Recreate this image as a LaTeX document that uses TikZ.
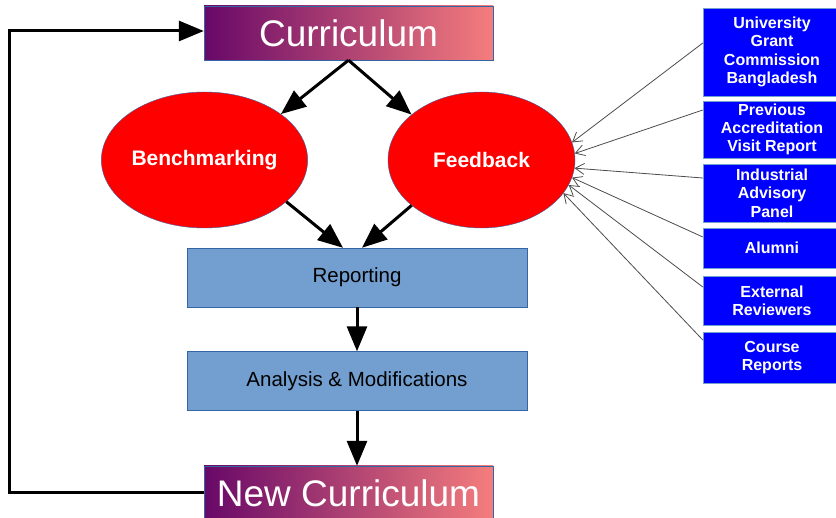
\documentclass[tikz,border=0pt]{standalone}
\usepackage{fontspec}
\setmainfont{Liberation Sans}
\usepackage{tikz}
\usetikzlibrary{arrows.meta, shapes}

\definecolor{plum}{RGB}{104,8,104}
\definecolor{salmon}{RGB}{245,125,125}
\definecolor{steel}{RGB}{114,159,207}
\definecolor{edgeblue}{RGB}{52,101,164}

\begin{document}
\begin{tikzpicture}[x=1pt,y=-1pt]
\useasboundingbox (0,0) rectangle (836,518);
\tikzstyle{title}=[rectangle,left color=plum,right color=salmon,draw=edgeblue,thin,
  minimum width=289pt,minimum height=54pt,inner sep=0pt,text=white,
  font=\fontsize{37}{44}\selectfont]
\tikzstyle{oval}=[ellipse,fill=red,draw=edgeblue,thin,minimum width=187pt,
  minimum height=136pt,inner sep=0pt,text=white,font=\fontsize{21}{25}\selectfont\bfseries]
\tikzstyle{stage}=[rectangle,fill=steel,draw=edgeblue,thin,minimum width=340pt,
  minimum height=59pt,inner sep=0pt,font=\fontsize{20.5}{24}\selectfont]
\tikzstyle{source}=[rectangle,fill=blue,draw=steel,thin,minimum width=138pt,inner sep=0pt,
  align=center,text=white,font=\fontsize{16}{18.3}\selectfont\bfseries]
\begin{scope}
    \node[title] (A) at (348.5,33) {Curriculum};
    \node[oval] (B) at (204.5,160) {Benchmarking};
    \node[oval] (C) at (481.5,160) {Feedback};
    \node[stage] (D) at (357,277.5) {Reporting};
    \node[stage] (E) at (357,381) {Analysis \& Modifications};
    \node[title] (F) at (348.5,493) {New Curriculum};

    \node[source,minimum height=88pt] (G) at (772,52) {University\\Grant\\Commission\\Bangladesh};
    \node[source,minimum height=57pt] (H) at (772,129.5) {Previous\\Accreditation\\Visit Report};
    \node[source,minimum height=58pt] (I) at (772,193) {Industrial\\Advisory\\Panel};
    \node[source,minimum height=40pt] (J) at (772,248) {Alumni};
    \node[source,minimum height=49pt] (K) at (772,300.5) {External\\Reviewers};
    \node[source,minimum height=51pt] (L) at (772,357.5) {Course\\Reports};
\end{scope}

\begin{scope}[>={Triangle[length=25pt,width=20pt]},
              every edge/.style={draw=black,line width=3pt}]
    \path [->] (A.south) edge (B.31);
    \path [->] (A.south) edge (C.147);
    \path [->] (B.-27) edge ([xshift=-14pt]D.north);
    \path [->] (C.213) edge ([xshift=5pt]D.north);
    \path [->] (D) edge (E);
    \path [->] (E) edge (F.north -| E.south);
    \draw [->,line width=3pt] (F.west) -- ++(-194,0) |- ([yshift=2pt]A.west);
\end{scope}

\begin{scope}[>={Straight Barb[length=9pt,width=11pt]},
              every edge/.style={draw=black!70,line width=0.8pt}]
    \path [->] ([yshift=9pt]G.west) edge (C.11);
    \path [->] ([yshift=19.5pt]H.west) edge (C.4);
    \path [->] ([yshift=15pt]I.west) edge (C.-5);
    \path [->] ([yshift=11pt]J.west) edge (C.-11);
    \path [->] ([yshift=13.5pt]K.west) edge (C.-16);
    \path [->] ([yshift=17.5pt]L.west) edge (C.-22);
\end{scope}
\end{tikzpicture}
\end{document}
